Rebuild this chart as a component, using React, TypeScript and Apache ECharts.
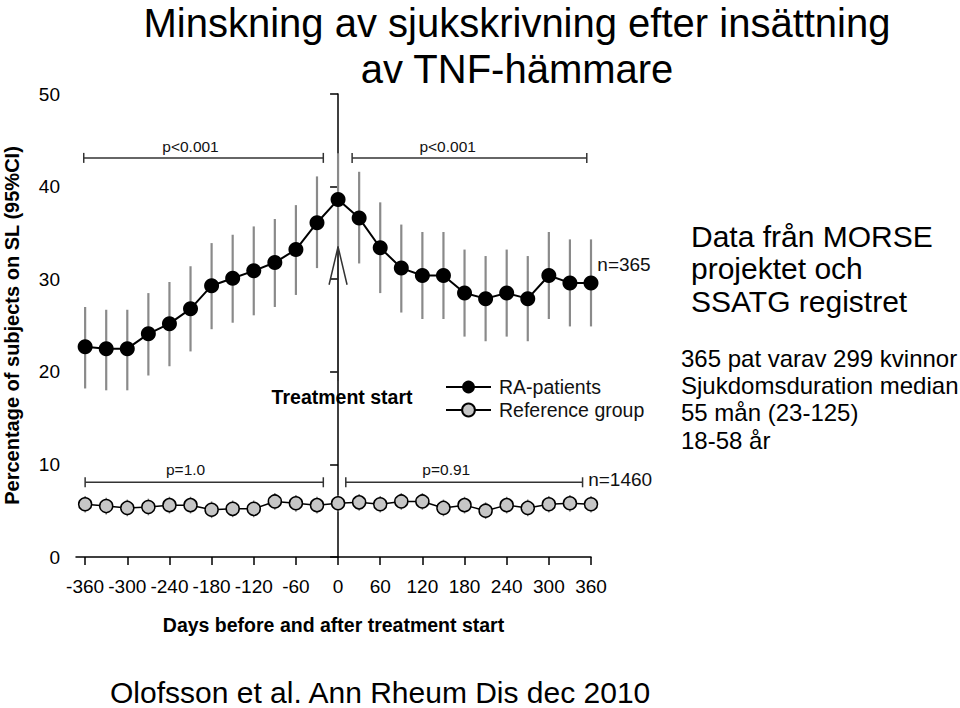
import React, { useEffect, useRef } from "react";
import * as echarts from "echarts";

const FONT = "'Liberation Sans', Arial, sans-serif";

const days = [-360, -330, -300, -270, -240, -210, -180, -150, -120, -90, -60, -30, 0, 30, 60, 90, 120, 150, 180, 210, 240, 270, 300, 330, 360];
const xTicks = [-360, -300, -240, -180, -120, -60, 0, 60, 120, 180, 240, 300, 360];

const raValues = [22.7, 22.5, 22.5, 24.1, 25.2, 26.8, 29.3, 30.1, 30.9, 31.8, 33.2, 36.1, 38.6, 36.6, 33.4, 31.2, 30.4, 30.4, 28.5, 27.9, 28.5, 27.9, 30.4, 29.6, 29.6];
const raLower = [18.2, 18.0, 18.0, 19.6, 20.6, 22.2, 24.6, 25.3, 26.1, 27.0, 28.3, 31.2, 33.5, 31.7, 28.5, 26.4, 25.7, 25.7, 23.8, 23.3, 23.8, 23.3, 25.7, 24.9, 24.9];
const raUpper = [27.0, 26.7, 26.7, 28.5, 29.7, 31.4, 33.9, 34.8, 35.7, 36.5, 38.0, 41.1, 43.6, 41.6, 38.3, 35.9, 35.1, 35.1, 33.2, 32.5, 33.2, 32.5, 35.1, 34.3, 34.3];

const refValues = [5.7, 5.5, 5.3, 5.4, 5.6, 5.6, 5.1, 5.2, 5.2, 6.0, 5.8, 5.6, 5.8, 5.9, 5.7, 6.0, 6.0, 5.3, 5.6, 5.0, 5.6, 5.3, 5.7, 5.8, 5.7];
const refLower = [4.8, 4.6, 4.4, 4.5, 4.7, 4.7, 4.2, 4.3, 4.3, 5.1, 4.9, 4.7, 4.9, 5.0, 4.8, 5.1, 5.1, 4.4, 4.7, 4.1, 4.7, 4.4, 4.8, 4.9, 4.8];
const refUpper = [6.6, 6.4, 6.2, 6.3, 6.5, 6.5, 6.0, 6.1, 6.1, 6.9, 6.7, 6.5, 6.7, 6.8, 6.6, 6.9, 6.9, 6.2, 6.5, 5.9, 6.5, 6.2, 6.6, 6.7, 6.6];

const bracketFrom = [-362, 20, -360, 11];
const bracketTo = [-21, 354, -21, 348];
const bracketY = [43.1, 43.1, 8.07, 8.07];
const bracketLabels = ["p<0.001", "p<0.001", "p=1.0", "p=0.91"];
const bracketLabelX = [-210, 156, -217, 154];

const nLabels = ["n=365", "n=1460"];
const nLabelX = [369, 356];
const nLabelY = [31.6, 8.4];

const arrowX = 0;
const arrowTop = 33.5;
const arrowBottom = 19.0;
const arrowLabel = "Treatment start";

const titleLines = ["Minskning av sjukskrivning efter insättning", "av TNF-hämmare"];
const infoLines1 = ["Data från MORSE", "projektet och", "SSATG registret"];
const infoLines2 = ["365 pat varav 299 kvinnor", "Sjukdomsduration median", "55 mån (23-125)", "18-58 år"];
const sourceText = "Olofsson et al. Ann Rheum Dis dec 2010";

export default function App() {
  const ref = useRef<HTMLDivElement>(null);
  useEffect(() => {
    if (!ref.current) return;
    const chart = echarts.init(ref.current, null, { renderer: "svg" });

    const errRender = (color: string, width: number) => (params: any, api: any) => {
      const lo = api.coord([api.value(0), api.value(1)]);
      const hi = api.coord([api.value(0), api.value(2)]);
      return {
        type: "line",
        shape: { x1: lo[0], y1: lo[1], x2: hi[0], y2: hi[1] },
        style: { stroke: color, lineWidth: width },
      };
    };

    const option: any = {
      animation: false,
      backgroundColor: "#fff",
      textStyle: { fontFamily: FONT },
      grid: { left: 76, right: 369, top: 94, bottom: 151, containLabel: false, outerBoundsMode: "none" },
      legend: {
        data: ["RA-patients", "Reference group"],
        orient: "vertical",
        left: 445,
        top: 377,
        padding: 0,
        itemWidth: 45,
        itemHeight: 16,
        itemGap: 3,
        textStyle: { fontSize: 19.5, lineHeight: 16, color: "#111", fontFamily: FONT, padding: [0, 0, 0, 3] },
      },
      xAxis: {
        type: "value",
        min: -373,
        max: 360,
        name: "Days before and after treatment start",
        nameLocation: "middle",
        nameGap: 58,
        nameTextStyle: { fontSize: 19.5, fontWeight: "bold", color: "#000", fontFamily: FONT },
        axisLine: { show: true, lineStyle: { color: "#000", width: 1.5 } },
        axisTick: { show: true, customValues: xTicks, length: 8, lineStyle: { color: "#000", width: 1.5 } },
        axisLabel: { customValues: xTicks, fontSize: 19, color: "#000", margin: 20, fontFamily: FONT },
        splitLine: { show: false },
      },
      yAxis: {
        type: "value",
        min: 0,
        max: 50,
        interval: 10,
        name: "Percentage of subjects on SL (95%CI)",
        nameLocation: "middle",
        nameGap: 54,
        nameTextStyle: { fontSize: 20, fontWeight: "bold", color: "#000", fontFamily: FONT },
        axisLine: { show: true, lineStyle: { color: "#000", width: 1.5 } },
        axisTick: { show: true, length: 8, lineStyle: { color: "#000", width: 1.5 } },
        axisLabel: { fontSize: 19, color: "#000", margin: 16, fontFamily: FONT },
        splitLine: { show: false },
      },
      series: [
        {
          type: "custom",
          name: "raErr",
          z: 1,
          renderItem: errRender("#8a8a8a", 2.2),
          encode: { x: 0, y: [1, 2] },
          data: days.map((d, i) => [d, raLower[i], raUpper[i]]),
          silent: true,
        },
        {
          type: "custom",
          name: "refErr",
          z: 1,
          renderItem: errRender("#7a7a7a", 1.5),
          encode: { x: 0, y: [1, 2] },
          data: days.map((d, i) => [d, refLower[i], refUpper[i]]),
          silent: true,
        },
        {
          type: "line",
          name: "RA-patients",
          z: 3,
          data: days.map((d, i) => [d, raValues[i]]),
          symbol: "circle",
          symbolSize: 15,
          itemStyle: { color: "#000" },
          lineStyle: { color: "#000", width: 2 },
        },
        {
          type: "line",
          name: "Reference group",
          z: 3,
          data: days.map((d, i) => [d, refValues[i]]),
          symbol: "circle",
          symbolSize: 13,
          itemStyle: { color: "#c6c6c6", borderColor: "#000", borderWidth: 1.5 },
          lineStyle: { color: "#000", width: 1.5 },
        },
        {
          type: "custom",
          name: "brackets",
          z: 2,
          silent: true,
          encode: { x: [0, 1], y: 2 },
          data: bracketFrom.map((f, i) => [f, bracketTo[i], bracketY[i], i]),
          renderItem: (params: any, api: any) => {
            const i = api.value(3);
            const a = api.coord([api.value(0), api.value(2)]);
            const b = api.coord([api.value(1), api.value(2)]);
            const l = api.coord([bracketLabelX[i], api.value(2)]);
            const st = { stroke: "#333", lineWidth: 1.5 };
            return {
              type: "group",
              children: [
                { type: "line", shape: { x1: a[0], y1: a[1], x2: b[0], y2: b[1] }, style: st },
                { type: "line", shape: { x1: a[0], y1: a[1] - 5, x2: a[0], y2: a[1] + 5 }, style: st },
                { type: "line", shape: { x1: b[0], y1: b[1] - 5, x2: b[0], y2: b[1] + 5 }, style: st },
                {
                  type: "text",
                  style: {
                    text: bracketLabels[i],
                    x: l[0],
                    y: l[1] - (i < 2 ? 11 : 13),
                    fill: "#111",
                    font: `15.5px ${FONT}`,
                    align: "center",
                    verticalAlign: "middle",
                  },
                },
              ],
            };
          },
        },
        {
          type: "custom",
          name: "nlabels",
          z: 2,
          silent: true,
          encode: { x: 0, y: 1 },
          data: nLabels.map((t, i) => [nLabelX[i], nLabelY[i], i]),
          renderItem: (params: any, api: any) => {
            const p = api.coord([api.value(0), api.value(1)]);
            return {
              type: "text",
              style: {
                text: nLabels[api.value(2)],
                x: p[0],
                y: p[1],
                fill: "#111",
                font: `19px ${FONT}`,
                align: "left",
                verticalAlign: "middle",
              },
            };
          },
        },
        {
          type: "custom",
          name: "arrow",
          z: 2,
          silent: true,
          encode: { x: 0, y: [1, 2] },
          data: [[arrowX, arrowTop, arrowBottom]],
          renderItem: (params: any, api: any) => {
            const t = api.coord([api.value(0), api.value(1)]);
            const b = api.coord([api.value(0), api.value(2)]);
            const st = { stroke: "#333", lineWidth: 1.5, fill: "none" };
            return {
              type: "group",
              children: [
                { type: "line", shape: { x1: t[0], y1: t[1], x2: b[0], y2: b[1] }, style: st },
                {
                  type: "polyline",
                  shape: { points: [[t[0] - 9, t[1] + 38], [t[0], t[1]], [t[0] + 9, t[1] + 38]] },
                  style: st,
                },
                {
                  type: "text",
                  style: {
                    text: arrowLabel,
                    x: b[0] + 4,
                    y: b[1] + 16,
                    fill: "#000",
                    font: `bold 19.5px ${FONT}`,
                    align: "center",
                    verticalAlign: "middle",
                  },
                },
              ],
            };
          },
        },
      ],
      graphic: [
        ...titleLines.map((t, i) => ({
          type: "text",
          style: { text: t, x: 517, y: i === 0 ? 23 : 68.5, fill: "#000", font: `40px ${FONT}`, align: "center", verticalAlign: "middle" },
        })),
        ...infoLines1.map((t, i) => ({
          type: "text",
          style: { text: t, x: 691, y: 236 + i * 32.7, fill: "#000", font: `30px ${FONT}`, align: "left", verticalAlign: "middle" },
        })),
        ...infoLines2.map((t, i) => ({
          type: "text",
          style: { text: t, x: 681, y: 358.5 + i * 27.2, fill: "#000", font: `24px ${FONT}`, align: "left", verticalAlign: "middle" },
        })),
        {
          type: "text",
          style: { text: sourceText, x: 110, y: 692, fill: "#000", font: `30px ${FONT}`, align: "left", verticalAlign: "middle" },
        },
      ],
    };
    chart.setOption(option);
    return () => chart.dispose();
  }, []);
  return <div ref={ref} style={{ position: "absolute", left: 0, top: 0, width: 960, height: 708 }} />;
}
